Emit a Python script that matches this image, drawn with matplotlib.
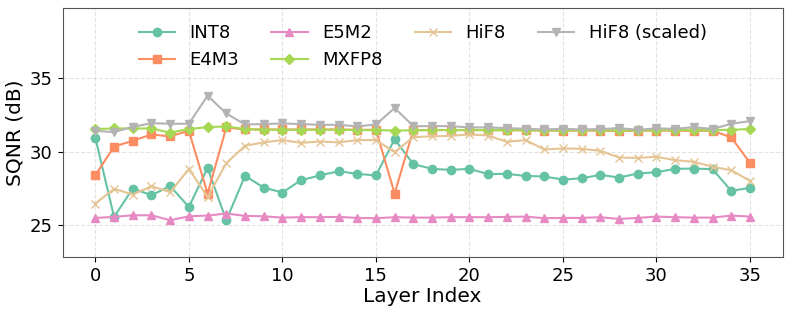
import numpy as np
import matplotlib.pyplot as plt

# SQNR per layer for each 8-bit format
layers = np.arange(36)

int8 = [30.95, 25.57, 27.5, 27.05, 27.66, 26.25, 28.9, 25.34, 28.36, 27.57,
        27.23, 28.07, 28.39, 28.68, 28.5, 28.39, 30.86, 29.16, 28.84, 28.77,
        28.84, 28.48, 28.5, 28.36, 28.32, 28.11, 28.2, 28.43, 28.25, 28.52,
        28.61, 28.84, 28.86, 28.82, 27.34, 27.55]
e4m3 = [28.41, 30.36, 30.75, 31.18, 31.05, 31.43, 27.16, 31.66, 31.52, 31.52,
        31.52, 31.52, 31.52, 31.52, 31.5, 31.5, 27.16, 31.48, 31.48, 31.48,
        31.48, 31.48, 31.46, 31.46, 31.44, 31.44, 31.44, 31.44, 31.42, 31.44,
        31.44, 31.44, 31.42, 31.44, 30.98, 29.25]
e5m2 = [25.5, 25.57, 25.68, 25.68, 25.34, 25.61, 25.66, 25.8, 25.64, 25.61,
        25.52, 25.55, 25.55, 25.57, 25.5, 25.48, 25.55, 25.52, 25.52, 25.55,
        25.55, 25.55, 25.57, 25.59, 25.48, 25.5, 25.5, 25.55, 25.43, 25.5,
        25.59, 25.55, 25.52, 25.52, 25.66, 25.59]
mxfp8 = [31.55, 31.59, 31.59, 31.59, 31.3, 31.55, 31.68, 31.73, 31.55, 31.5,
         31.5, 31.5, 31.5, 31.5, 31.48, 31.48, 31.45, 31.46, 31.48, 31.48,
         31.48, 31.48, 31.48, 31.48, 31.46, 31.46, 31.48, 31.48, 31.46, 31.46,
         31.48, 31.48, 31.48, 31.48, 31.5, 31.55]
hif8 = [26.48, 27.48, 27.09, 27.66, 27.25, 28.84, 26.93, 29.23, 30.41, 30.64,
        30.8, 30.61, 30.7, 30.64, 30.8, 30.8, 29.98, 31.0, 31.05, 31.09,
        31.18, 31.11, 30.68, 30.8, 30.16, 30.23, 30.2, 30.07, 29.61, 29.59,
        29.66, 29.43, 29.32, 28.98, 28.75, 28.02]
hif8_scaled = [31.43, 31.34, 31.7, 31.95, 31.91, 31.91, 33.82, 32.61, 31.86, 31.89,
               31.93, 31.89, 31.84, 31.84, 31.73, 31.86, 32.98, 31.75, 31.75, 31.75,
               31.66, 31.66, 31.61, 31.57, 31.52, 31.57, 31.52, 31.55, 31.61, 31.5,
               31.59, 31.57, 31.68, 31.55, 31.91, 32.09]

series = [
    ("INT8", int8, "#66c2a5", "o"),
    ("E4M3", e4m3, "#fc8d62", "s"),
    ("E5M2", e5m2, "#e78ac3", "^"),
    ("MXFP8", mxfp8, "#a6d854", "D"),
    ("HiF8", hif8, "#e5c494", "x"),
    ("HiF8 (scaled)", hif8_scaled, "#b3b3b3", "v"),
]

fig, ax = plt.subplots(figsize=(7.93, 3.14), dpi=100)
fig.subplots_adjust(left=0.079, right=0.987, top=0.975, bottom=0.182)

for name, vals, color, mk in series:
    ms = 5 if mk == "D" else 6
    ax.plot(layers, vals, marker=mk, color=color, label=name,
            linewidth=1.5, markersize=ms)

ax.set_ylim(22.85, 39.8)
ax.set_yticks([25, 30, 35])
ax.set_xlabel("Layer Index", fontsize=14.5, labelpad=2)
ax.set_ylabel("SQNR (dB)", fontsize=14.5)
ax.tick_params(labelsize=13)
ax.grid(True, linestyle="--", alpha=0.35)
for sp in ax.spines.values():
    sp.set_color("#555555")

ax.legend(ncol=4, loc="upper center", frameon=False, fontsize=13,
          columnspacing=1.8, handlelength=2.0)

plt.savefig("out.png")
